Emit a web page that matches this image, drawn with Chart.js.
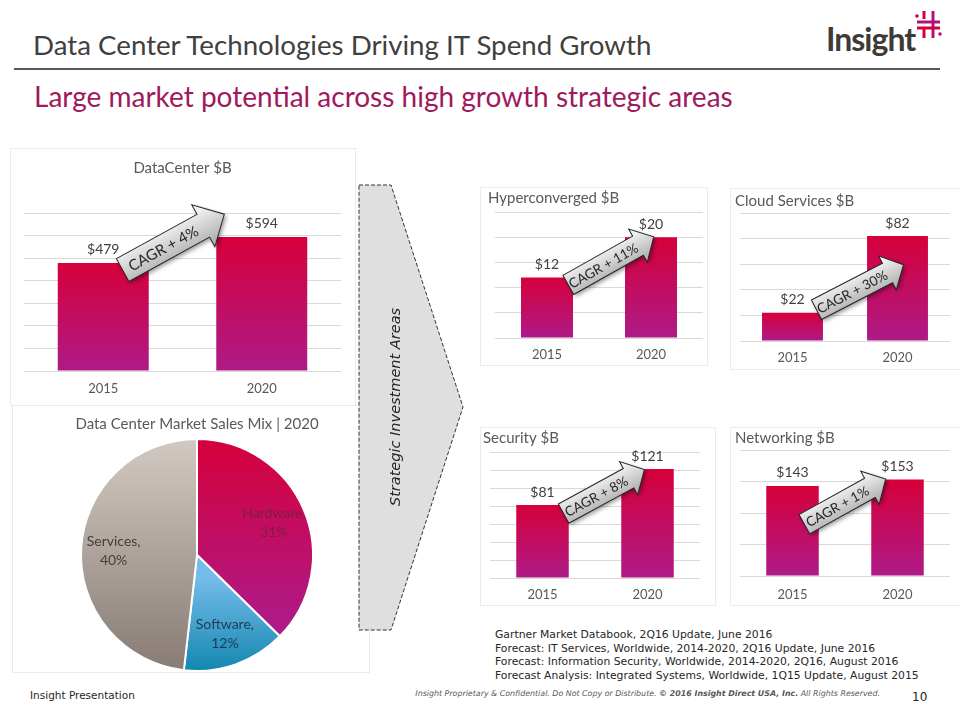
<!DOCTYPE html>
<html>
<head>
<meta charset="utf-8">
<script src="https://cdn.jsdelivr.net/npm/chart.js@4.4.0/dist/chart.umd.min.js"></script>
<style>
body { margin:0; background:#fff; }
#slide { position:relative; width:960px; height:720px; overflow:hidden; font-family:Lato, sans-serif; }
.abs { position:absolute; white-space:nowrap; }
.box { position:absolute; border:1px solid #ebebeb; box-sizing:border-box; }
canvas { position:absolute; }
.verd { font-family:'DejaVu Sans', Verdana, sans-serif; }
</style>
</head>
<body>
<div id="slide">
  <div class="abs" style="left:33px; top:30px; font-size:27.7px; line-height:30px; color:#404040;">Data Center Technologies Driving IT Spend Growth</div>
  <div class="abs" style="left:14px; top:68px; width:926px; height:2px; background:#595959;"></div>
  <div class="abs" style="left:34px; top:81px; font-size:28px; line-height:30px; color:#A0195C;">Large market potential across high growth strategic areas</div>

  <!-- logo -->
  <div class="abs" style="left:826px; top:20px; font-size:32px; line-height:38px; font-weight:700; letter-spacing:-1px; color:#3E3A37;">Insight</div>
  <svg class="abs" style="left:913px; top:9px;" width="32" height="32">
    <line x1="11" y1="2" x2="11" y2="10" stroke="#D6003A" stroke-width="3"/>
    <line x1="11" y1="20" x2="11" y2="29" stroke="#D6003A" stroke-width="3"/>
    <line x1="20" y1="2" x2="20" y2="29" stroke="#B0127A" stroke-width="3"/>
    <line x1="4" y1="13" x2="27" y2="13" stroke="#B0127A" stroke-width="3"/>
    <line x1="4" y1="19" x2="27" y2="19" stroke="#D6003A" stroke-width="3"/>
    <circle cx="4" cy="7" r="1.8" fill="#D6003A"/>
    <circle cx="27" cy="25" r="1.8" fill="#B0127A"/>
  </svg>

  <div class="box" style="left:10px; top:148px; width:346px; height:258px;"></div>
  <div class="box" style="left:12px; top:405px; width:358px; height:268px;"></div>
  <div class="box" style="left:480px; top:187px; width:228px; height:179px;"></div>
  <div class="box" style="left:730px; top:188px; width:231px; height:182px;"></div>
  <div class="box" style="left:480px; top:427px; width:236px; height:179px;"></div>
  <div class="box" style="left:730px; top:427px; width:231px; height:179px;"></div>

  <canvas id="dcChart" width="345" height="257" style="left:10px; top:148px;"></canvas>
  <canvas id="mixChart" width="360" height="267" style="left:10px; top:405px;"></canvas>
  <canvas id="hyperChart" width="228" height="178" style="left:480px; top:187px;"></canvas>
  <canvas id="cloudChart" width="230" height="181" style="left:730px; top:188px;"></canvas>
  <canvas id="secChart" width="235" height="178" style="left:480px; top:427px;"></canvas>
  <canvas id="netChart" width="230" height="178" style="left:730px; top:427px;"></canvas>

  <!-- strategic investment arrow -->
  <svg class="abs" style="left:350px; top:180px;" width="120" height="460">
    <polygon points="9,5 41,5 113,227 41,450 9,450" fill="#DFDFDF" stroke="#333" stroke-width="1" stroke-dasharray="4,2"/>
  </svg>
  <div class="abs verd" style="left:395px; top:407px; font-size:14.5px; font-style:italic; color:#262626; transform:translate(-50%,-50%) rotate(-90deg);">Strategic Investment Areas</div>

  <div class="abs verd" style="left:495px; top:628px; font-size:10.8px; line-height:13.7px; color:#262626;">
    Gartner Market Databook, 2Q16 Update, June 2016<br>
    Forecast: IT Services, Worldwide, 2014-2020, 2Q16 Update, June 2016<br>
    Forecast: Information Security, Worldwide, 2014-2020, 2Q16, August 2016<br>
    Forecast Analysis: Integrated Systems, Worldwide, 1Q15 Update, August 2015
  </div>

  <div class="abs verd" style="left:30px; top:688px; font-size:10.5px; line-height:14px; color:#262626;">Insight Presentation</div>
  <div class="abs verd" style="right:80px; top:688px; font-size:7.9px; line-height:12px; font-style:italic; color:#595959;">Insight Proprietary &amp; Confidential. Do Not Copy or Distribute. <b>© 2016 Insight Direct USA, Inc.</b> All Rights Reserved.</div>
  <div class="abs verd" style="left:912px; top:689px; font-size:12px; line-height:16px; color:#262626;">10</div>
</div>

<script>
var years = ['2015', '2020'];
var dataCenterValues = [479, 594];
var hyperconvergedValues = [12, 20];
var cloudValues = [22, 82];
var securityValues = [81, 121];
var networkingValues = [143, 153];
var cagrLabels = ['CAGR + 4%', 'CAGR + 11%', 'CAGR + 30%', 'CAGR + 8%', 'CAGR + 1%'];
var mixLabels = ['Hardware', 'Software', 'Services'];
var mixValues = [31, 12, 40];

var FONT = "Lato, 'Liberation Sans', sans-serif";

// bar fill: red at the top of each bar, magenta at the base
function barGradient(c) {
  var chart = c.chart;
  if (c.type !== 'data' || !chart.scales.y) return '#C8105A';
  var top = chart.scales.y.getPixelForValue(c.parsed.y);
  var base = chart.scales.y.getPixelForValue(0);
  if (!isFinite(top) || !isFinite(base) || top === base) return '#C8105A';
  var g = chart.ctx.createLinearGradient(0, top, 0, base);
  g.addColorStop(0, '#D6003A');
  g.addColorStop(1, '#AE1A88');
  return g;
}

var barLabels = {
  id: 'barLabels',
  afterDatasetsDraw: function(chart) {
    var ctx = chart.ctx, meta = chart.getDatasetMeta(0), vals = chart.data.datasets[0].data;
    ctx.save();
    ctx.font = '14px ' + FONT;
    ctx.fillStyle = '#404040';
    ctx.textAlign = 'center';
    ctx.textBaseline = 'middle';
    meta.data.forEach(function(el, i) {
      ctx.fillText('$' + vals[i], el.x, el.y - 13);
    });
    ctx.restore();
  }
};

var cagrArrow = {
  id: 'cagr',
  afterDatasetsDraw: function(chart, args, o) {
    if (!o || !o.text) return;
    var meta = chart.getDatasetMeta(0);
    var cx = (meta.data[0].x + meta.data[1].x) / 2 + o.dx;
    var cy = chart.scales.y.getPixelForValue(o.yVal);
    var L = o.len, s = o.shaft / 2, h = o.headW / 2, hl = o.headL;
    var ctx = chart.ctx;
    ctx.save();
    ctx.translate(cx, cy);
    ctx.rotate(o.angle * Math.PI / 180);
    ctx.beginPath();
    ctx.moveTo(-L / 2, -s);
    ctx.lineTo(L / 2 - hl, -s);
    ctx.lineTo(L / 2 - hl, -h);
    ctx.lineTo(L / 2, 0);
    ctx.lineTo(L / 2 - hl, h);
    ctx.lineTo(L / 2 - hl, s);
    ctx.lineTo(-L / 2, s);
    ctx.closePath();
    var g = ctx.createLinearGradient(0, -h, 0, h);
    g.addColorStop(0, '#FFFFFF');
    g.addColorStop(1, '#A6A6A6');
    ctx.shadowColor = 'rgba(0,0,0,0.4)';
    ctx.shadowBlur = 4;
    ctx.shadowOffsetX = 2;
    ctx.shadowOffsetY = 2;
    ctx.fillStyle = g;
    ctx.fill();
    ctx.shadowColor = 'transparent';
    ctx.lineWidth = 1;
    ctx.strokeStyle = '#262626';
    ctx.stroke();
    ctx.font = o.fontSize + 'px ' + FONT;
    ctx.fillStyle = '#262626';
    ctx.textAlign = 'center';
    ctx.textBaseline = 'middle';
    ctx.fillText(o.text, -hl / 2, 1);
    ctx.restore();
  }
};

function makeBar(id, title, values, cfg) {
  return new Chart(document.getElementById(id), {
    type: 'bar',
    data: {
      labels: years,
      datasets: [{ data: values, backgroundColor: barGradient, barPercentage: cfg.barPct, categoryPercentage: 1 }]
    },
    options: {
      responsive: false,
      animation: false,
      layout: { padding: { left: cfg.padL, right: cfg.padR, top: 0, bottom: 0 } },
      plugins: {
        legend: { display: false },
        tooltip: { enabled: false },
        title: {
          display: true, text: title, align: cfg.align, color: '#595959',
          font: { family: FONT, size: 15, weight: 'normal' },
          padding: { top: cfg.tTop, bottom: cfg.tBot }
        },
        cagr: cfg.cagr
      },
      scales: {
        x: {
          grid: { display: false, drawTicks: false },
          border: { display: false },
          ticks: { color: '#595959', font: { family: FONT, size: 13 }, padding: cfg.xPad },
          afterFit: function(s) { s.height = cfg.xH; }
        },
        y: {
          min: 0, max: cfg.max,
          ticks: { display: false, stepSize: cfg.step },
          grid: { color: '#D9D9D9', drawTicks: false },
          border: { display: false },
          afterFit: function(s) { s.width = cfg.yW; }
        }
      }
    },
    plugins: [barLabels, cagrArrow]
  });
}

makeBar('dcChart', 'DataCenter $B', dataCenterValues, {
  padL: 14, padR: 14, yW: 0, align: 'center', tTop: 11, tBot: 36, xH: 34, xPad: 10,
  max: 700, step: 100, barPct: 0.574,
  cagr: { text: cagrLabels[0], dx: -9, yVal: 571, len: 116, angle: -28.8, shaft: 26, headW: 48, headL: 24, fontSize: 15 }
});
makeBar('hyperChart', 'Hyperconverged $B', hyperconvergedValues, {
  padL: 8, padR: 5, yW: 7, align: 'start', tTop: 2, tBot: 5, xH: 27, xPad: 9,
  max: 25, step: 5, barPct: 0.5,
  cagr: { text: cagrLabels[1], dx: 12, yVal: 15.3, len: 98, angle: -29.4, shaft: 22, headW: 38, headL: 18, fontSize: 13.5 }
});
makeBar('cloudChart', 'Cloud Services $B', cloudValues, {
  padL: 5, padR: 10, yW: 5, align: 'start', tTop: 4, tBot: 3, xH: 28, xPad: 9,
  max: 100, step: 20, barPct: 0.58,
  cagr: { text: cagrLabels[2], dx: 15, yVal: 42, len: 98, angle: -27.4, shaft: 22, headW: 38, headL: 18, fontSize: 13.5 }
});
makeBar('secChart', 'Security $B', securityValues, {
  padL: 3, padR: 15, yW: 7, align: 'start', tTop: 2, tBot: 5, xH: 27, xPad: 9,
  max: 140, step: 20, barPct: 0.5,
  cagr: { text: cagrLabels[3], dx: 9, yVal: 96, len: 92, angle: -28.6, shaft: 22, headW: 38, headL: 18, fontSize: 13.5 }
});
makeBar('netChart', 'Networking $B', networkingValues, {
  padL: 5, padR: 10, yW: 5, align: 'start', tTop: 2, tBot: 3, xH: 29, xPad: 11,
  max: 200, step: 50, barPct: 0.5,
  cagr: { text: cagrLabels[4], dx: 0, yVal: 118, len: 93, angle: -29, shaft: 22, headW: 38, headL: 18, fontSize: 13.5 }
});

// pie
var mixStops = [
  [[0, '#D6003A'], [0.8, '#AE1A88']],
  [[0.6, '#74BBE8'], [1, '#1187B0']],
  [[0, '#D2CAC2'], [1, '#877B74']]
];
var mixTextColors = ['#7A1E45', '#1F3A56', '#404040'];

function mixFill(c) {
  var area = c.chart.chartArea;
  if (c.type !== 'data' || !area) return '#999';
  var g = c.chart.ctx.createLinearGradient(0, area.top, 0, area.bottom);
  mixStops[c.dataIndex].forEach(function(s) { g.addColorStop(s[0], s[1]); });
  return g;
}

var pieLabels = {
  id: 'pieLabels',
  afterDatasetsDraw: function(chart) {
    var ctx = chart.ctx, meta = chart.getDatasetMeta(0);
    ctx.save();
    ctx.font = '14px ' + FONT;
    ctx.textAlign = 'center';
    ctx.textBaseline = 'middle';
    meta.data.forEach(function(arc, i) {
      var mid = (arc.startAngle + arc.endAngle) / 2;
      var r = arc.outerRadius * 0.72;
      var x = arc.x + Math.cos(mid) * r, y = arc.y + Math.sin(mid) * r;
      ctx.fillStyle = mixTextColors[i];
      ctx.fillText(mixLabels[i] + ',', x, y - 9);
      ctx.fillText(mixValues[i] + '%', x, y + 10);
    });
    ctx.restore();
  }
};

new Chart(document.getElementById('mixChart'), {
  type: 'pie',
  data: {
    labels: mixLabels,
    datasets: [{ data: mixValues, backgroundColor: mixFill, borderColor: '#FFFFFF', borderWidth: 2 }]
  },
  options: {
    responsive: false,
    animation: false,
    layout: { padding: { left: 14, right: 0, top: 0, bottom: 0 } },
    plugins: {
      legend: { display: false },
      tooltip: { enabled: false },
      title: {
        display: true, text: 'Data Center Market Sales Mix | 2020', color: '#595959',
        font: { family: FONT, size: 15, weight: 'normal' },
        padding: { top: 10, bottom: 5 }
      }
    }
  },
  plugins: [pieLabels]
});
</script>
</body>
</html>
